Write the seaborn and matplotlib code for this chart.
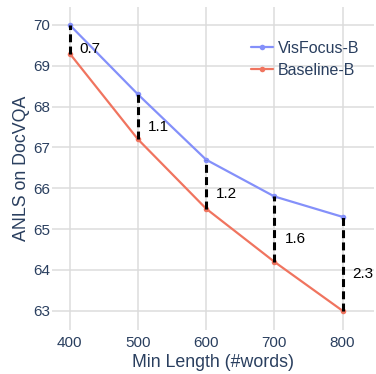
import matplotlib
matplotlib.use("Agg")
import matplotlib.pyplot as plt
import seaborn as sns
import pandas as pd

min_length = [400, 500, 600, 700, 800]
visfocus = [70.0, 68.3, 66.7, 65.8, 65.3]
baseline = [69.3, 67.2, 65.5, 64.2, 63.0]
gap_labels = ["0.7", "1.1", "1.2", "1.6", "2.3"]
y_ticks = [63, 64, 65, 66, 67, 68, 69, 70]

palette = {"VisFocus-B": "#8490fa", "Baseline-B": "#f0745f"}
text_color = "#2a3f5f"

df = pd.DataFrame({
    "Min Length": min_length * 2,
    "ANLS": visfocus + baseline,
    "Model": ["VisFocus-B"] * len(visfocus) + ["Baseline-B"] * len(baseline),
})

sns.set_style("white")
plt.rcParams['font.family'] = ['Liberation Sans', 'DejaVu Sans']

fig = plt.figure(figsize=(3.76, 3.74), dpi=100)
ax = fig.add_axes([52 / 376, 44 / 374, 322 / 376, 323 / 374])

sns.lineplot(data=df, x="Min Length", y="ANLS", hue="Model", palette=palette,
             marker="o", markersize=4, markeredgewidth=0, linewidth=1.6, ax=ax)

# dashed gap lines with labels
for x, a, b, lab in zip(min_length, visfocus, baseline, gap_labels):
    ax.plot([x, x], [b, a], color="black", linestyle=(0, (2.6, 1.4)), linewidth=2.2, zorder=3)
    ax.annotate(lab, xy=(x, (a + b) / 2), xytext=(10, -10), textcoords="offset pixels",
                ha="left", va="center", fontsize=11, color="black")

ax.set_xlim(374, 846)
ax.set_ylim(62.53, 70.44)
ax.set_xticks(min_length)
ax.set_yticks(y_ticks)
ax.grid(True, color="#dcdcdc", linewidth=1.1)
ax.set_axisbelow(True)
for s in ax.spines.values():
    s.set_visible(False)
ax.tick_params(axis="both", length=0, labelsize=11, labelcolor=text_color)
ax.tick_params(axis="y", pad=1.5)
ax.tick_params(axis="x", pad=4)
ax.set_xlabel("Min Length (#words)", fontsize=12.8, color=text_color, labelpad=3)
ax.set_ylabel("ANLS on DocVQA", fontsize=12.8, color=text_color, labelpad=2)

leg = ax.legend(loc="upper right", bbox_to_anchor=(1.0, 0.94), frameon=False,
                fontsize=11.5, handlelength=1.4, handletextpad=0.3, labelspacing=0.45)
for t in leg.get_texts():
    t.set_color(text_color)

fig.savefig("out.png", dpi=100)
